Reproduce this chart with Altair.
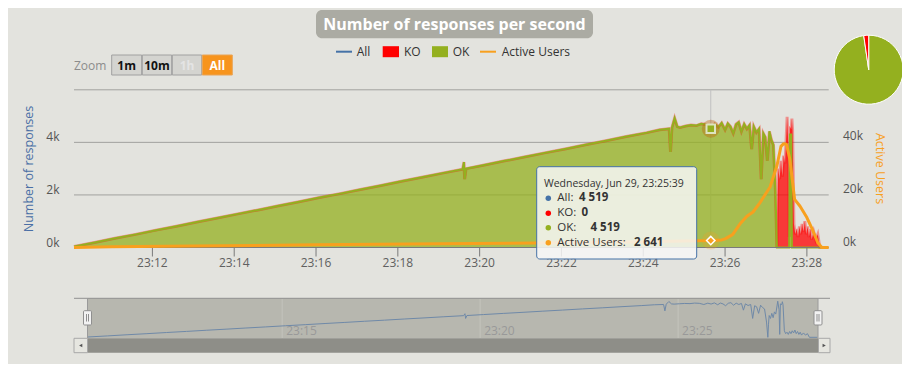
import altair as alt
import pandas as pd

# ---------------- data ----------------
T_START, T_END = "23:10:05", "23:28:32"

TIMES = [
    "23:10:05", "23:10:35", "23:11:05", "23:11:35", "23:12:05", "23:12:35", "23:13:05", "23:13:35",
    "23:14:05", "23:14:35", "23:15:05", "23:15:35", "23:16:05", "23:16:35", "23:17:05", "23:17:35",
    "23:18:05", "23:18:35", "23:19:05", "23:19:35", "23:19:37", "23:19:38", "23:19:40", "23:20:05",
    "23:20:35", "23:21:05", "23:21:35", "23:22:05", "23:22:35", "23:23:05", "23:23:35", "23:24:05",
    "23:24:24", "23:24:38", "23:24:40", "23:24:42", "23:24:46", "23:24:50", "23:24:54", "23:25:02",
    "23:25:10", "23:25:18", "23:25:25", "23:25:32", "23:25:39", "23:25:45", "23:25:50", "23:25:55",
    "23:26:00", "23:26:04", "23:26:08", "23:26:12", "23:26:16", "23:26:20", "23:26:24", "23:26:28",
    "23:26:32", "23:26:36", "23:26:39", "23:26:42", "23:26:46", "23:26:50", "23:26:53", "23:26:56",
    "23:26:59", "23:27:02", "23:27:05", "23:27:08", "23:27:11", "23:27:14", "23:27:16", "23:27:17",
    "23:27:18", "23:27:20", "23:27:22", "23:27:24", "23:27:26", "23:27:28", "23:27:31", "23:27:33",
    "23:27:34", "23:27:35", "23:27:37", "23:27:38", "23:27:39", "23:27:41", "23:27:43", "23:27:45",
    "23:27:47", "23:27:49", "23:27:51", "23:27:53", "23:27:55", "23:27:57", "23:27:59", "23:28:01",
    "23:28:03", "23:28:05", "23:28:07", "23:28:10", "23:28:13", "23:28:16", "23:28:19", "23:28:31",
]
OK = [
    40, 190, 350, 500, 660, 810, 970, 1120,
    1280, 1430, 1590, 1740, 1900, 2050, 2210, 2360,
    2520, 2670, 2830, 2980, 3250, 2600, 3000, 3130,
    3290, 3440, 3600, 3750, 3910, 4060, 4220, 4370,
    4480, 4520, 3640, 4560, 4930, 4600, 4570, 4620,
    4660, 4640, 4710, 4680, 4519, 4700, 4580, 4740,
    4480, 4720, 4600, 4350, 4690, 4770, 4420, 4700,
    4520, 4660, 3740, 4610, 4380, 4520, 2600, 4350,
    4200, 3300, 4420, 4100, 3900, 2100, 0, 0,
    0, 0, 0, 0, 0, 0, 0, 0,
    0, 4300, 4300, 0, 0, 0, 0, 0,
    0, 0, 0, 0, 0, 0, 0, 0,
    0, 0, 0, 0, 0, 0, 0, 0,
]
KO = [
    0, 0, 0, 0, 0, 0, 0, 0,
    0, 0, 0, 0, 0, 0, 0, 0,
    0, 0, 0, 0, 0, 0, 0, 0,
    0, 0, 0, 0, 0, 0, 0, 0,
    0, 0, 0, 0, 0, 0, 0, 0,
    0, 0, 0, 0, 0, 0, 0, 0,
    0, 0, 0, 0, 0, 0, 0, 0,
    0, 0, 0, 0, 0, 0, 0, 0,
    0, 0, 0, 0, 0, 0, 0, 1800,
    3000, 2600, 3300, 2700, 3500, 3200, 4970, 3800,
    400, 300, 200, 4900, 4500, 900, 500, 700,
    400, 800, 500, 900, 600, 1000, 500, 800,
    400, 700, 300, 600, 300, 500, 0, 0,
]
USER_TIMES = [
    "23:10:05", "23:11:00", "23:13:00", "23:16:00", "23:19:00", "23:22:00", "23:24:00", "23:25:00",
    "23:25:39", "23:25:55", "23:26:00", "23:26:11", "23:26:22", "23:26:32", "23:26:41", "23:26:51",
    "23:27:06", "23:27:16", "23:27:22", "23:27:26", "23:27:30", "23:27:35", "23:27:42", "23:27:50",
    "23:28:00", "23:28:07", "23:28:16", "23:28:22", "23:28:32",
]
USERS = [
    0, 300, 600, 1000, 1400, 1800, 2200, 2450,
    2641, 2900, 3300, 4900, 9000, 11900, 13500, 17000,
    23000, 31000, 38500, 39500, 39300, 33600, 18300, 15700,
    11400, 7500, 1800, 0, 0,
]
X_TICKS = ["23:12", "23:14", "23:16", "23:18", "23:20", "23:22", "23:24", "23:26", "23:28"]
NAV_TICKS = ["23:15", "23:20", "23:25"]
Y_TICKS = [0, 2000, 4000]
Y_TICK_LABELS = ["0k", "2k", "4k"]
GRID_VALUES = [2000, 4000, 6000]
R_TICKS = [0, 20000, 40000]
R_TICK_LABELS = ["0k", "20k", "40k"]
PIE_NAMES = ["OK", "KO"]
PIE_SHARES = [97.7, 2.3]
TIP_DAY = "Wednesday, Jun 29"
TIP_TIME = "23:25:39"
TIP_NAMES = ["All", "KO", "OK", "Active Users"]
TIP_VALUES = [4519, 0, 4519, 2641]
LEGEND = ["All", "KO", "OK", "Active Users"]
ZOOM_BUTTONS = ["1m", "10m", "1h", "All"]
TITLE = "Number of responses per second"
Y_TITLE = "Number of responses"
R_TITLE = "Active Users"

# ---------------- style ----------------
FONT = "Open Sans"
BG = "#E3E3DE"
GREEN = "#94B01F"
RED = "#FF0000"
BLUE = "#4572A7"
ORANGE = "#F8A01E"


def sec(s):
    p = [int(v) for v in s.split(":")]
    while len(p) < 3:
        p.append(0)
    return p[0] * 3600 + p[1] * 60 + p[2]


main = pd.DataFrame({"t": [sec(t) for t in TIMES], "ok": OK, "ko": KO})
main["top"] = main["ok"] + main["ko"]
main["zero"] = 0
users = pd.DataFrame({"t": [sec(t) for t in USER_TIMES], "u": USERS})

X_MAIN = alt.Scale(domain=[sec(T_START), sec(T_END)], range=[66, 820.7], nice=False, zero=False)
Y_MAIN = alt.Scale(domain=[0, 6000], range=[239.5, 81.8], nice=False, zero=False)
Y_USERS = alt.Scale(domain=[0, 60000], range=[239.5, 81.8], nice=False, zero=False)
X_NAV = alt.Scale(domain=[sec(T_START), sec(T_END)], range=[79.5, 810], nice=False, zero=False)
Y_NAV = alt.Scale(domain=[0, 5000], range=[329.3, 293], nice=False, zero=False)


def xm(f="t"):
    return alt.X(f"{f}:Q", scale=X_MAIN, axis=None)


def ym(f, scale=Y_MAIN):
    return alt.Y(f"{f}:Q", scale=scale, axis=None)


def rects(rows, radius=0, **kw):
    df = pd.DataFrame(rows, columns=["x", "y", "x2", "y2"])
    return alt.Chart(df).mark_rect(cornerRadius=radius, **kw).encode(
        x=alt.X("x:Q", scale=None, axis=None), x2="x2:Q",
        y=alt.Y("y:Q", scale=None, axis=None), y2="y2:Q")


def rules(rows, **kw):
    df = pd.DataFrame(rows, columns=["x", "y", "x2", "y2"])
    return alt.Chart(df).mark_rule(**kw).encode(
        x=alt.X("x:Q", scale=None, axis=None), x2="x2:Q",
        y=alt.Y("y:Q", scale=None, axis=None), y2="y2:Q")


def texts(rows, **kw):
    df = pd.DataFrame(rows, columns=["x", "y", "text"])
    kw.setdefault("font", FONT)
    return alt.Chart(df).mark_text(**kw).encode(
        x=alt.X("x:Q", scale=None, axis=None),
        y=alt.Y("y:Q", scale=None, axis=None), text="text:N")


L = []

# title
L.append(rects([(308, 2, 585, 30.3)], radius=6, color="#ABABA3"))
L.append(texts([(446.5, 16.8, TITLE)], fontSize=16, fontWeight="bold", color="white",
               align="center", baseline="middle"))

# legend
L.append(rules([(328, 43.7, 344, 43.7)], color=BLUE, strokeWidth=2))
L.append(rects([(374.7, 38.2, 391, 49.2)], color=RED))
L.append(rects([(424, 38.2, 440, 49.2)], color=GREEN))
L.append(rules([(472, 43.7, 488, 43.7)], color=ORANGE, strokeWidth=2))
L.append(texts(list(zip([348.7, 396, 444.7, 493.7], [44] * 4, LEGEND)),
               fontSize=12, color="#333333", align="left", baseline="middle"))

# zoom buttons
L.append(texts([(66, 58, "Zoom")], fontSize=12, color="#8C8C8C", align="left", baseline="middle"))
L.append(rects([(103.7, 47, 133.7, 67), (134.3, 47, 163.7, 67), (164.3, 47, 193.7, 67)],
               fill="#D4D4D0", stroke="#A0A0A0", strokeWidth=1))
L.append(rects([(194.3, 47, 224.3, 67)], fill="#F7941D", stroke="#E9A456", strokeWidth=1))
L.append(texts([(118.7, 57.5, ZOOM_BUTTONS[0]), (149, 57.5, ZOOM_BUTTONS[1])],
               fontSize=12, fontWeight="bold", color="#111111", align="center", baseline="middle"))
L.append(texts([(179, 57.5, ZOOM_BUTTONS[2])],
               fontSize=12, fontWeight="bold", color="#E4E4E4", align="center", baseline="middle"))
L.append(texts([(209.3, 57.5, ZOOM_BUTTONS[3])],
               fontSize=12, fontWeight="bold", color="white", align="center", baseline="middle"))

# grid + crosshair
L.append(alt.Chart(pd.DataFrame({"v": GRID_VALUES})).mark_rule(color="#A2A29E").encode(
    y=ym("v"), x=alt.value(66), x2=alt.value(820.7)))
tip = pd.DataFrame({"t": [sec(TIP_TIME)], "all": [TIP_VALUES[0]], "u": [TIP_VALUES[3]]})
L.append(alt.Chart(tip).mark_rule(color="#C0C0C0").encode(
    x=xm(), y=alt.value(81.8), y2=alt.value(239.5)))

# stacked areas (KO stacked on OK)
L.append(alt.Chart(main).mark_area(color=GREEN, fillOpacity=0.75).encode(
    x=xm(), y=ym("ok"), y2="zero:Q"))
L.append(alt.Chart(main).mark_area(color=RED, fillOpacity=0.75).encode(
    x=xm(), y=ym("top"), y2="ok:Q"))
L.append(alt.Chart(main).mark_line(color=RED, strokeWidth=3, opacity=0.35).encode(x=xm(), y=ym("top")))
L.append(alt.Chart(main).mark_line(color=GREEN, strokeWidth=2).encode(x=xm(), y=ym("ok")))

# x axis
L.append(alt.Chart(pd.DataFrame({"v": [0]})).mark_rule(color="#7A7A7A").encode(
    y=ym("v"), x=alt.value(66), x2=alt.value(820.7)))
xt = pd.DataFrame({"t": [sec(t) for t in X_TICKS], "label": X_TICKS})
L.append(alt.Chart(xt).mark_rule(color="#7A7A7A").encode(
    x=xm(), y=alt.value(239.5), y2=alt.value(248.5)))
L.append(alt.Chart(xt).mark_text(font=FONT, fontSize=12, color="#606060", align="center",
                                  baseline="middle").encode(x=xm(), y=alt.value(254.5), text="label:N"))

# active users
L.append(alt.Chart(users).mark_line(color=ORANGE, strokeWidth=3, strokeJoin="round").encode(
    x=xm(), y=ym("u", Y_USERS)))

# hover markers
L.append(alt.Chart(tip).mark_circle(size=320, color=RED, opacity=0.22).encode(x=xm(), y=ym("all")))
L.append(alt.Chart(tip).mark_circle(size=320, color=GREEN, opacity=0.25).encode(x=xm(), y=ym("all")))
L.append(alt.Chart(tip).mark_square(size=72, color=GREEN, opacity=1, stroke="#DDE3C0",
                                    strokeWidth=2).encode(x=xm(), y=ym("all")))
L.append(alt.Chart(tip).mark_circle(size=320, color=ORANGE, opacity=0.25).encode(
    x=xm(), y=ym("u", Y_USERS)))
L.append(alt.Chart(tip).mark_point(shape="diamond", size=70, filled=True, fill=ORANGE, opacity=1,
                                   stroke="white", strokeWidth=1.5).encode(x=xm(), y=ym("u", Y_USERS)))

# y axes labels & titles
L.append(alt.Chart(pd.DataFrame({"v": Y_TICKS, "label": Y_TICK_LABELS})).mark_text(
    font=FONT, fontSize=12, color="#555555", align="right", baseline="middle", dy=-5).encode(
    x=alt.value(51.5), y=ym("v"), text="label:N"))
L.append(alt.Chart(pd.DataFrame({"v": R_TICKS, "label": R_TICK_LABELS})).mark_text(
    font=FONT, fontSize=12, color="#555555", align="left", baseline="middle", dy=-6).encode(
    x=alt.value(835), y=ym("v", Y_USERS), text="label:N"))
L.append(texts([(20.5, 161, Y_TITLE)], angle=270, fontSize=12.5, color="#4A6FA5",
               align="center", baseline="middle"))
L.append(texts([(872, 160.5, R_TITLE)], angle=90, fontSize=12.5, color=ORANGE,
               align="center", baseline="middle"))

# navigator
L.append(rects([(79.5, 290.3, 810, 330.3)], color="#B7B7AF"))
nt = pd.DataFrame({"t": [sec(t) for t in NAV_TICKS], "label": NAV_TICKS})
L.append(alt.Chart(nt).mark_rule(color="#C4C4BC").encode(
    x=alt.X("t:Q", scale=X_NAV, axis=None), y=alt.value(290.3), y2=alt.value(330.3)))
L.append(alt.Chart(nt).mark_text(font=FONT, fontSize=12, color="#999999", align="left",
                                  baseline="middle", dx=4).encode(
    x=alt.X("t:Q", scale=X_NAV, axis=None), y=alt.value(322.5), text="label:N"))
L.append(alt.Chart(main).mark_line(color="#6F89A8", strokeWidth=1).encode(
    x=alt.X("t:Q", scale=X_NAV, axis=None), y=alt.Y("top:Q", scale=Y_NAV, axis=None)))
L.append(rules([(66, 290.3, 822, 290.3)], color="#909090"))
L.append(rules([(79.5, 290.3, 79.5, 330.3), (810, 290.3, 810, 330.3)], color="#9A9A9A"))
L.append(rects([(79.5, 330.3, 810.5, 344.7)], color="#8E8E88"))
L.append(rects([(66, 330.3, 79.5, 344.7), (810.5, 330.3, 822, 344.7)],
               fill="#E6E6E0", stroke="#A8A8A8", strokeWidth=1))
arrows = pd.DataFrame({"x": [72.7, 816.2], "y": [337.5, 337.5], "s": ["triangle-left", "triangle-right"]})
L.append(alt.Chart(arrows).mark_point(filled=True, size=14, color="#555555", opacity=1).encode(
    x=alt.X("x:Q", scale=None, axis=None), y=alt.Y("y:Q", scale=None, axis=None),
    shape=alt.Shape("s:N", scale=None)))
L.append(rects([(75.5, 302.7, 83.5, 317), (806, 302.7, 814, 317)], radius=1,
               fill="#F2F2F2", stroke="#8F8F8F", strokeWidth=1))
L.append(rules([(78.5, 306, 78.5, 313.5), (80.5, 306, 80.5, 313.5),
                (809, 306, 809, 313.5), (811, 306, 811, 313.5)], color="#8F8F8F"))

# pie
pie = pd.DataFrame({"name": PIE_NAMES, "share": PIE_SHARES, "c": [GREEN, RED], "i": [0, 1]})
L.append(alt.Chart(pie).mark_arc(radius=34.5, stroke="white", strokeWidth=1).encode(
    theta=alt.Theta("share:Q", stack=True), color=alt.Color("c:N", scale=None),
    order=alt.Order("i:Q"), x=alt.value(860.7), y=alt.value(61.7)))

# tooltip
L.append(rects([(528.7, 158.7, 688.7, 251)], radius=3, fill="#F7F7F7", fillOpacity=0.85,
               stroke=BLUE, strokeWidth=1))
L.append(texts([(536, 175.5, f"{TIP_DAY}, {TIP_TIME}")], fontSize=10.5, color="#333333",
               align="left", baseline="middle"))
row_y = [190.3, 205.3, 219.7, 234.7]
bul = pd.DataFrame({"x": [540.3] * 4, "y": row_y, "c": [BLUE, RED, GREEN, ORANGE]})
L.append(alt.Chart(bul).mark_circle(size=30, opacity=1).encode(
    x=alt.X("x:Q", scale=None, axis=None), y=alt.Y("y:Q", scale=None, axis=None),
    color=alt.Color("c:N", scale=None)))
L.append(texts([(549.3, y, f"{n}:") for n, y in zip(TIP_NAMES, row_y)], fontSize=11.5,
               color="#333333", align="left", baseline="middle"))
val_x = [571, 573.5, 582.5, 626]
L.append(texts([(x, y, f"{v:,}".replace(",", " ")) for x, y, v in zip(val_x, row_y, TIP_VALUES)],
               fontSize=11.5, fontWeight="bold", color="#333333", align="left", baseline="middle"))

chart = alt.layer(*L).resolve_scale(x="independent", y="independent").properties(
    width=894, height=356, background=BG, padding=0,
    autosize=alt.AutoSizeParams(type="none"),
).configure_view(strokeWidth=0)

chart.save("out.html", embed_options={"renderer": "svg", "actions": False})
